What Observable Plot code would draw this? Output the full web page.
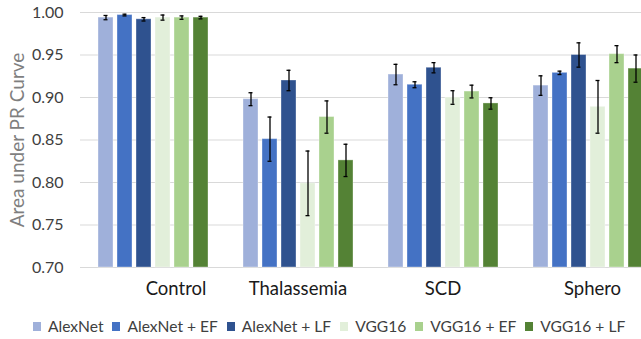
<!DOCTYPE html>
<html>
<head>
<meta charset="utf-8">
<script src="https://cdn.jsdelivr.net/npm/d3@7"></script>
<script src="https://cdn.jsdelivr.net/npm/@observablehq/plot@0.6"></script>
<style>
  html, body { margin: 0; padding: 0; background: #fff; overflow: hidden; width: 641px; height: 339px; }
  #chart { position: relative; width: 661px; }
  #legend { display: flex; align-items: center; margin-left: 33px; margin-top: 10px; height: 18px; line-height: 18px;
            font-family: Lato, "Noto Sans", sans-serif; font-size: 15.6px; color: #404040; white-space: nowrap; }
  .item { display: flex; align-items: center; margin-right: 9px; }
  .sw { width: 8px; height: 9px; margin-right: 7px; display: inline-block; }
</style>
</head>
<body>
<div id="chart"></div>
<script>
const categories = ["Control", "Thalassemia", "SCD", "Sphero"];
const models = ["AlexNet", "AlexNet + EF", "AlexNet + LF", "VGG16", "VGG16 + EF", "VGG16 + LF"];
const modelColors = ["#9fb0da", "#4472c4", "#2f528f", "#e2efda", "#a9d18e", "#548235"];
const yTicks = [0.70, 0.75, 0.80, 0.85, 0.90, 0.95, 1.00];
const yDomain = [0.70, 1.00];
const yTitle = "Area under PR Curve";

// mean AUC-PR per model, for each category
const aucControl     = [0.994, 0.997, 0.992, 0.994, 0.994, 0.994];
const aucThalassemia = [0.898, 0.851, 0.920, 0.799, 0.877, 0.826];
const aucSCD         = [0.927, 0.915, 0.935, 0.900, 0.907, 0.893];
const aucSphero      = [0.914, 0.929, 0.950, 0.889, 0.951, 0.934];

// error (half-length of error bar)
const errControl     = [0.0025, 0.001, 0.002, 0.003, 0.002, 0.0015];
const errThalassemia = [0.0076, 0.026, 0.012, 0.038, 0.019, 0.019];
const errSCD         = [0.012, 0.0035, 0.006, 0.008, 0.0075, 0.0067];
const errSphero      = [0.0115, 0.002, 0.0143, 0.031, 0.010, 0.016];

const aucByCat = [aucControl, aucThalassemia, aucSCD, aucSphero];
const errByCat = [errControl, errThalassemia, errSCD, errSphero];

const rows = [];
categories.forEach((c, i) => {
  models.forEach((m, j) => {
    rows.push({category: c, model: m, value: aucByCat[i][j], err: errByCat[i][j]});
  });
});

const font = "Lato, 'Noto Sans', sans-serif";
const labelOffsets = [23, 0, 0, 4.5];

const plot = Plot.plot({
  width: 661,
  height: 307,
  marginLeft: 79,
  marginRight: 0,
  marginTop: 12,
  marginBottom: 40,
  style: {fontFamily: font, background: "white"},
  fx: {domain: categories, padding: 0, axis: null},
  x: {domain: models, paddingInner: 0.224, paddingOuter: 0.872, axis: null},
  y: {domain: yDomain, axis: null},
  color: {domain: models, range: modelColors},
  marks: [
    Plot.ruleY(yTicks, {stroke: "#d9d9d9", strokeWidth: 1}),
    Plot.axisY({ticks: yTicks, tickSize: 0, tickPadding: 17, tickFormat: d => d.toFixed(2),
                fontSize: 16, color: "#404040", label: null}),
    Plot.text([yTitle], {fx: () => categories[0], text: d => d, frameAnchor: "left", textAnchor: "middle",
                         rotate: -90, dx: -63, fontSize: 19, fill: "#7f7f7f"}),
    Plot.barY(rows, {fx: "category", x: "model", y1: () => yDomain[0], y2: "value", fill: "model",
                     stroke: "white", strokeOpacity: 0.35, strokeWidth: 1}),
    Plot.ruleX(rows, {fx: "category", x: "model", y1: d => d.value - d.err, y2: d => d.value + d.err,
                      stroke: "black", strokeWidth: 1.3}),
    Plot.tickY(rows, {fx: "category", x: "model", y: d => d.value - d.err, stroke: "black",
                      strokeWidth: 1.3, insetLeft: 5.5, insetRight: 5.5}),
    Plot.tickY(rows, {fx: "category", x: "model", y: d => d.value + d.err, stroke: "black",
                      strokeWidth: 1.3, insetLeft: 5.5, insetRight: 5.5}),
    ...categories.map((c, i) => Plot.text([c], {fx: d => d, text: d => d, frameAnchor: "bottom",
                      dy: 27, dx: labelOffsets[i], fontSize: 18.5, fill: "#1a1a1a"}))
  ]
});

const chart = document.getElementById("chart");
chart.appendChild(plot);

const legend = document.createElement("div");
legend.id = "legend";
models.forEach((m, i) => {
  const item = document.createElement("span");
  item.className = "item";
  const sw = document.createElement("span");
  sw.className = "sw";
  sw.style.background = modelColors[i];
  item.appendChild(sw);
  item.appendChild(document.createTextNode(m));
  legend.appendChild(item);
});
chart.appendChild(legend);
</script>
</body>
</html>
